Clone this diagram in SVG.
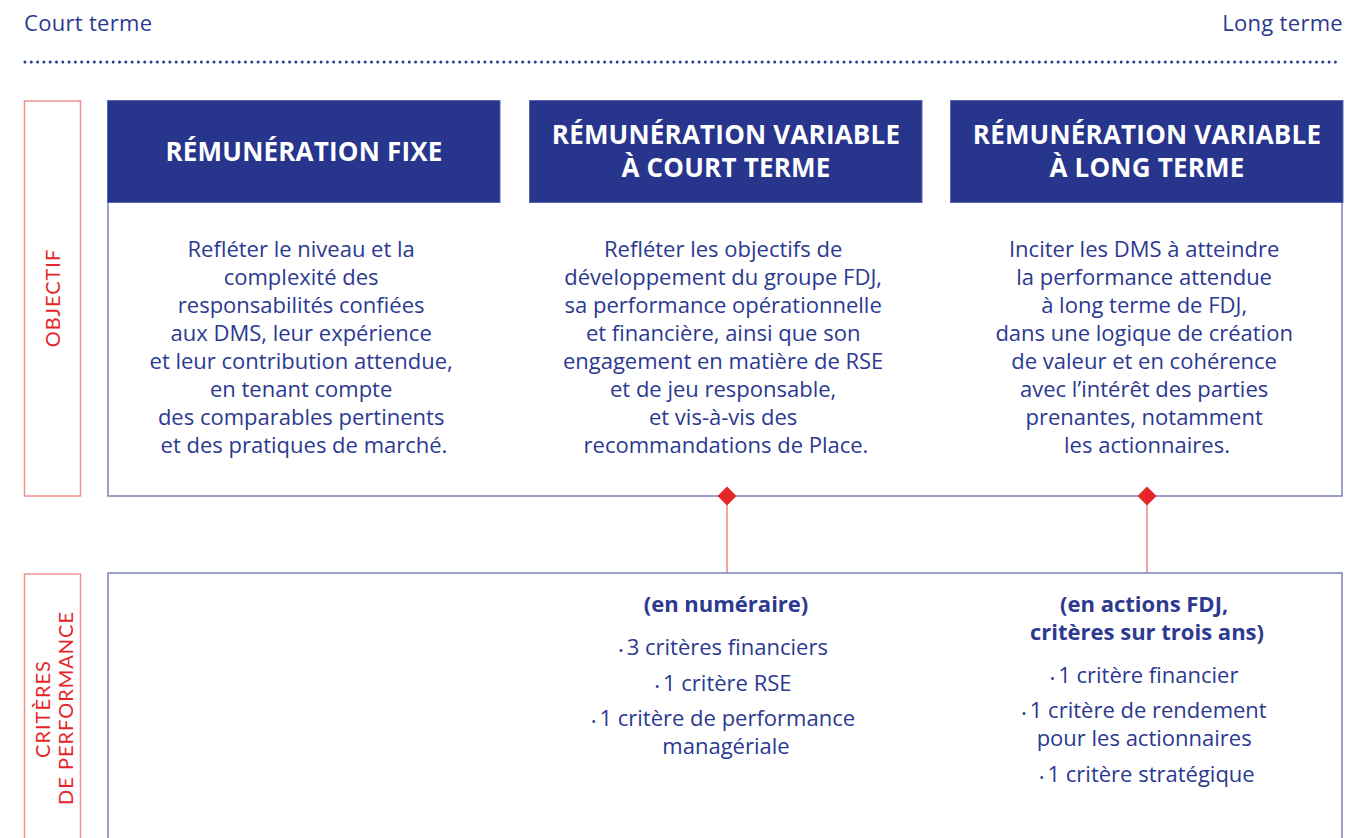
<svg xmlns="http://www.w3.org/2000/svg" width="1345" height="838" viewBox="0 0 1345 838">
  <style>
    .scale { font-family: "Open Sans", "Liberation Sans", sans-serif; font-size: 22px; font-weight: 500; fill: #2b3990; letter-spacing: 0.3px; }
    .head { fill: #28358c; stroke: #5c64ad; stroke-width: 1; }
    .htxt { font-family: "Open Sans", "Liberation Sans", sans-serif; font-size: 26px; font-weight: bold; fill: #ffffff; text-anchor: middle; letter-spacing: 0.2px; }
    .body { font-family: "Open Sans", "Liberation Sans", sans-serif; font-size: 22px; font-weight: 500; fill: #2b3990; text-anchor: middle; }
    .bold { font-weight: bold; }
    .side { fill: none; stroke: #f19191; stroke-width: 1.5; }
    .sidetxt { font-family: Lato, "Liberation Sans", sans-serif; font-size: 20px; fill: #e4262a; text-anchor: middle; letter-spacing: 1px; }
    .frame { fill: none; stroke: #7a80bd; stroke-width: 1.5; }
    .link { stroke: #f08585; stroke-width: 1.5; fill: none; }
    .diamond { fill: #e4262a; }
    .dot { font-size: 13px; }
  </style>

  <!-- time scale -->
  <g id="scale">
    <text class="scale" x="24" y="31">Court terme</text>
    <text class="scale" x="1343" y="31" text-anchor="end">Long terme</text>
    <line x1="25" y1="62" x2="1340" y2="62" stroke="#2b3990" stroke-width="3" stroke-linecap="round" stroke-dasharray="0 6.3"/>
  </g>

  <!-- row labels -->
  <g id="label-objectif">
    <rect class="side" x="24.5" y="101" width="56" height="395"/>
    <text class="sidetxt" transform="translate(60 298) rotate(-90)">OBJECTIF</text>
  </g>
  <g id="label-criteres">
    <path class="side" d="M24.5 840 V574 H80.5 V840"/>
    <text class="sidetxt" transform="translate(50 709) rotate(-90)">CRITÈRES</text>
    <text class="sidetxt" transform="translate(73 708) rotate(-90)">DE PERFORMANCE</text>
  </g>

  <!-- objective frame -->
  <g id="frame-objectif">
    <path class="frame" d="M108 202 V496 H1342 V202"/>
  </g>

  <!-- column headers and objectives -->
  <g id="col-fixe">
    <rect class="head" x="107.5" y="100.5" width="392.5" height="102"/>
    <text class="htxt" x="304" y="161">RÉMUNÉRATION FIXE</text>
    <text class="body">
      <tspan x="304" y="257">Refléter le niveau et la</tspan>
      <tspan x="304" y="285">complexité des</tspan>
      <tspan x="304" y="313">responsabilités confiées</tspan>
      <tspan x="304" y="341">aux DMS, leur expérience</tspan>
      <tspan x="304" y="369">et leur contribution attendue,</tspan>
      <tspan x="304" y="397">en tenant compte</tspan>
      <tspan x="304" y="425">des comparables pertinents</tspan>
      <tspan x="304" y="453">et des pratiques de marché.</tspan>
    </text>
  </g>

  <g id="col-court">
    <rect class="head" x="529.5" y="100.5" width="392.5" height="102"/>
    <text class="htxt" x="726" y="144">RÉMUNÉRATION VARIABLE</text>
    <text class="htxt" x="726" y="177">À COURT TERME</text>
    <text class="body">
      <tspan x="726" y="257">Refléter les objectifs de</tspan>
      <tspan x="726" y="285">développement du groupe FDJ,</tspan>
      <tspan x="726" y="313">sa performance opérationnelle</tspan>
      <tspan x="726" y="341">et financière, ainsi que son</tspan>
      <tspan x="726" y="369">engagement en matière de RSE</tspan>
      <tspan x="726" y="397">et de jeu responsable,</tspan>
      <tspan x="726" y="425">et vis-à-vis des</tspan>
      <tspan x="726" y="453">recommandations de Place.</tspan>
    </text>
  </g>

  <g id="col-long">
    <rect class="head" x="950.5" y="100.5" width="392.5" height="102"/>
    <text class="htxt" x="1147" y="144">RÉMUNÉRATION VARIABLE</text>
    <text class="htxt" x="1147" y="177">À LONG TERME</text>
    <text class="body">
      <tspan x="1147" y="257">Inciter les DMS à atteindre</tspan>
      <tspan x="1147" y="285">la performance attendue</tspan>
      <tspan x="1147" y="313">à long terme de FDJ,</tspan>
      <tspan x="1147" y="341">dans une logique de création</tspan>
      <tspan x="1147" y="369">de valeur et en cohérence</tspan>
      <tspan x="1147" y="397">avec l’intérêt des parties</tspan>
      <tspan x="1147" y="425">prenantes, notamment</tspan>
      <tspan x="1147" y="453">les actionnaires.</tspan>
    </text>
  </g>

  <!-- connectors between objective and criteria -->
  <g id="connectors">
    <line class="link" x1="727" y1="500" x2="727" y2="573"/>
    <line class="link" x1="1147" y1="500" x2="1147" y2="573"/>
    <path class="diamond" d="M727 486.5 L736.5 496 L727 505.5 L717.5 496 Z"/>
    <path class="diamond" d="M1147 486.5 L1156.5 496 L1147 505.5 L1137.5 496 Z"/>
  </g>

  <!-- criteria frame -->
  <g id="frame-criteres">
    <path class="frame" d="M108 840 V573 H1342 V840"/>
  </g>

  <g id="crit-court">
    <text class="body bold" x="726" y="612">(en numéraire)</text>
    <text class="body">
      <tspan x="726" y="655"><tspan class="dot">• </tspan>3 critères financiers</tspan>
      <tspan x="726" y="691"><tspan class="dot">• </tspan>1 critère RSE</tspan>
      <tspan x="726" y="726"><tspan class="dot">• </tspan>1 critère de performance</tspan>
      <tspan x="726" y="754">managériale</tspan>
    </text>
  </g>

  <g id="crit-long">
    <text class="body bold">
      <tspan x="1147" y="612">(en actions FDJ,</tspan>
      <tspan x="1147" y="640">critères sur trois ans)</tspan>
    </text>
    <text class="body">
      <tspan x="1147" y="683"><tspan class="dot">• </tspan>1 critère financier</tspan>
      <tspan x="1147" y="718"><tspan class="dot">• </tspan>1 critère de rendement</tspan>
      <tspan x="1147" y="746">pour les actionnaires</tspan>
      <tspan x="1147" y="782"><tspan class="dot">• </tspan>1 critère stratégique</tspan>
    </text>
  </g>
</svg>
